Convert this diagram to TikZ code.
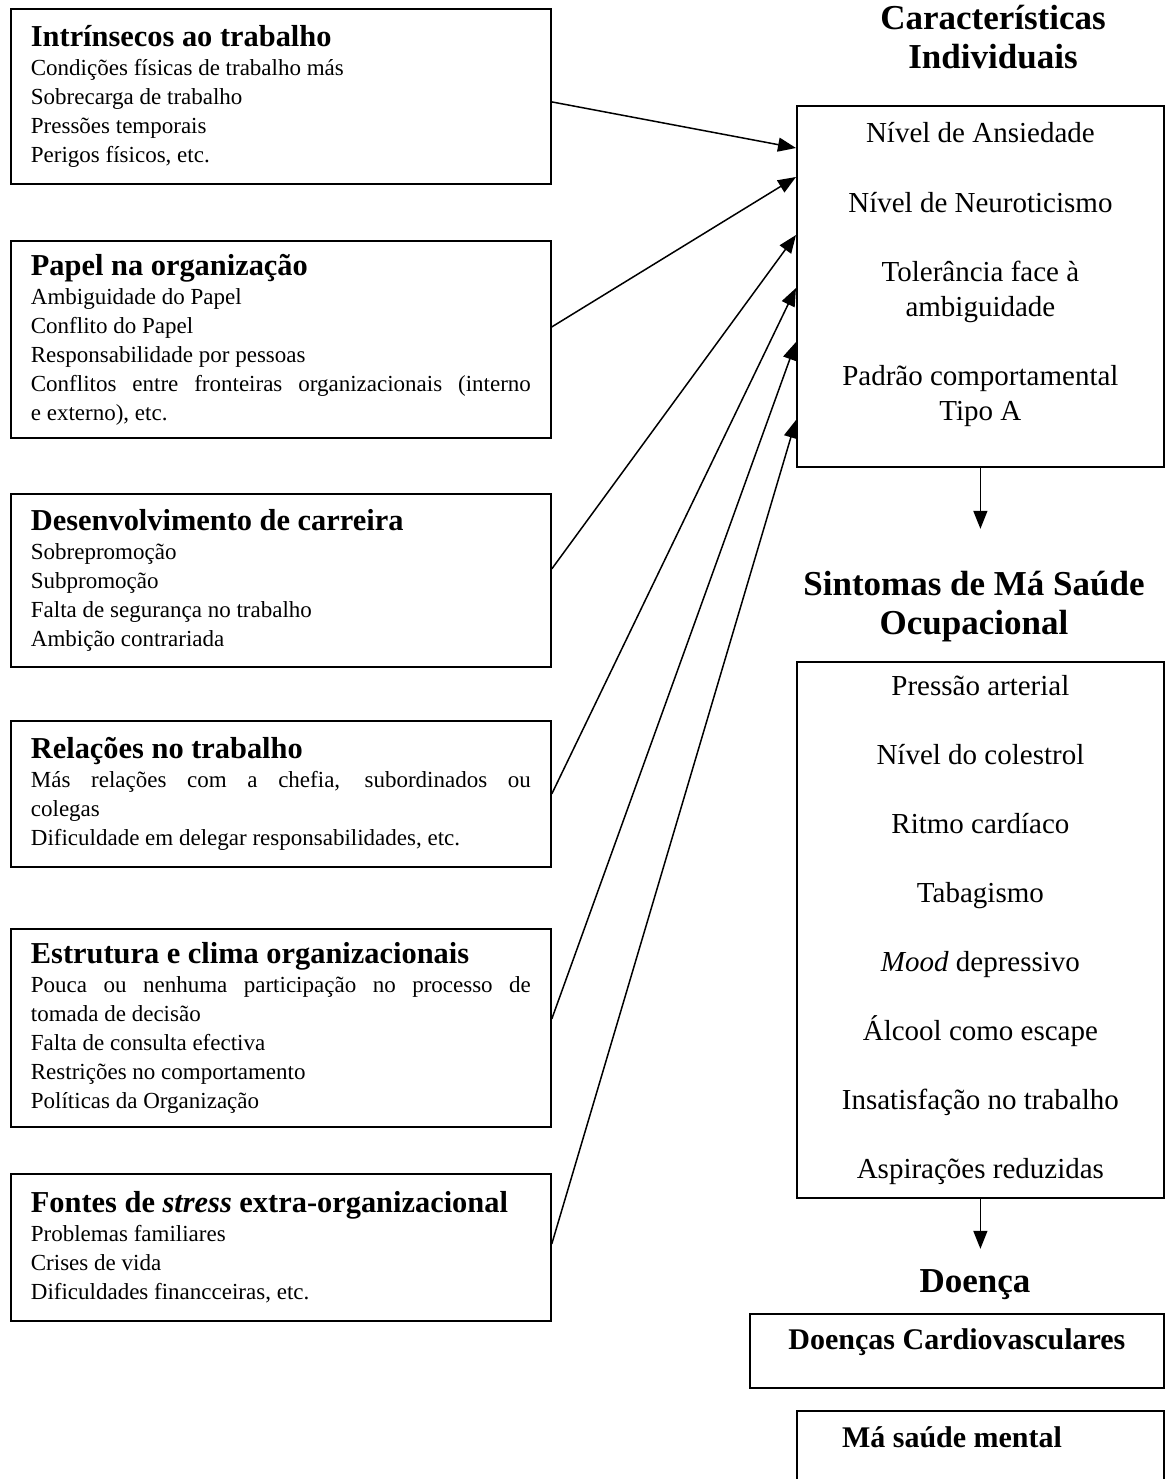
\documentclass[tikz,border=0pt]{standalone}
\usepackage{fontspec}
\setmainfont{Liberation Serif}
\usetikzlibrary{arrows.meta, calc}

\tikzset{
    stressor/.style={draw, line width=0.9pt, anchor=north west, text width=250pt,
        inner xsep=10pt, inner ysep=0pt, align=justify,
        font=\fontsize{11.5}{14.5}\selectfont},
    panel/.style={draw, line width=0.9pt, anchor=north west, minimum width=183.5pt, inner sep=0pt},
    itemlist/.style={align=center, inner sep=0pt, font=\fontsize{14.5}{17.5}\selectfont},
    heading/.style={align=center, inner sep=0pt, font=\fontsize{17.5}{19.5}\selectfont\bfseries},
    illness/.style={font=\fontsize{15}{17}\selectfont\bfseries, inner sep=0pt},
    feed/.style={-{Triangle[length=9pt,width=7pt]}, line width=0.75pt}
}
\newcommand{\boxtitle}[1]{{\fontsize{15.2}{14.5}\selectfont\bfseries #1}}

\begin{document}
\begin{tikzpicture}[x=0.5pt, y=-0.5pt]
    \useasboundingbox (0,0) rectangle (1165,1479);

    % fontes de stress
    \node[stressor, minimum height=87.5pt] (intrin) at (10,8) {\boxtitle{Intrínsecos ao trabalho}\\
        Condições físicas de trabalho más\\ Sobrecarga de trabalho\\ Pressões temporais\\ Perigos físicos, etc.};
    \node[stressor, minimum height=98.5pt] (papel) at (10,240) {\boxtitle{Papel na organização}\\
        Ambiguidade do Papel\\ Conflito do Papel\\ Responsabilidade por pessoas\\
        Conflitos entre fronteiras organizacionais (interno\linebreak e externo), etc.};
    \node[stressor, minimum height=86.5pt] (carreira) at (10,493) {\boxtitle{Desenvolvimento de carreira}\\
        Sobrepromoção\\ Subpromoção\\ Falta de segurança no trabalho\\ Ambição contrariada};
    \node[stressor, minimum height=73pt] (relacoes) at (10,720) {\boxtitle{Relações no trabalho}\\
        Más relações com a chefia, subordinados ou\linebreak colegas\\
        Dificuldade em delegar responsabilidades, etc.};
    \node[stressor, minimum height=99pt] (clima) at (10,928) {\boxtitle{Estrutura e clima organizacionais}\\
        Pouca ou nenhuma participação no processo de\linebreak tomada de decisão\\
        Falta de consulta efectiva\\ Restrições no comportamento\\ Políticas da Organização};
    \node[stressor, minimum height=73.5pt] (extra) at (10,1173) {\boxtitle{Fontes de \textit{stress} extra-organizacional}\\
        Problemas familiares\\ Crises de vida\\ Dificuldades financceiras, etc.};

    % coluna da direita
    \node[heading, anchor=base] (indivhead) at (993,68) {Características\\Individuais};
    \node[panel, minimum height=180.5pt] (indiv) at (796,105) {};
    \node[itemlist, anchor=north] (indivtext) at ($(indiv.north)+(0,17)$) {Nível de Ansiedade\\[17.5pt]
        Nível de Neuroticismo\\[17pt] Tolerância face à\\ ambiguidade\\[17pt] Padrão comportamental\\ Tipo A};

    \node[heading, anchor=base] (sinthead) at (974,634) {Sintomas de Má Saúde\\Ocupacional};
    \node[panel, itemlist, anchor=north west, minimum height=268pt] (sympt) at (796,661) {Pressão arterial\\[17pt]
        Nível do colestrol\\[17pt] Ritmo cardíaco\\[17pt] Tabagismo\\[17pt] \textit{Mood} depressivo\\[17pt]
        Álcool como escape\\[17pt] Insatisfação no trabalho\\[17pt] Aspirações reduzidas};

    \node[heading, anchor=base] (doenhead) at (975,1292) {Doença};
    \node[panel, illness, minimum width=207pt, text height=18pt, text depth=19pt] (cardio) at (749,1313) {Doenças Cardiovasculares};
    \node[panel, minimum height=40pt] (mental) at (796,1410) {};
    \node[illness, anchor=base] (mentaltext) at (952,1447) {Má saúde mental};

    \coordinate (sinttop) at ([yshift=-30.5pt]indiv.south);
    \coordinate (doentop) at ([yshift=-25pt]sympt.south);

    \path[feed]
        ([yshift=-2.75pt]intrin.east) edge ([yshift=-21.5pt]indiv.north west)
        ([yshift=6.25pt]papel.east) edge ([yshift=-36pt]indiv.north west)
        ([yshift=5.75pt]carreira.east) edge ([yshift=-65pt]indiv.north west)
        (relacoes.east) edge ([yshift=-91.5pt]indiv.north west)
        ([yshift=4.5pt]clima.east) edge ([yshift=-118.5pt]indiv.north west)
        ([yshift=1.75pt]extra.east) edge ([yshift=-157.5pt]indiv.north west)
        (indiv.south) edge (sinttop)
        (sympt.south) edge (doentop);
\end{tikzpicture}
\end{document}
